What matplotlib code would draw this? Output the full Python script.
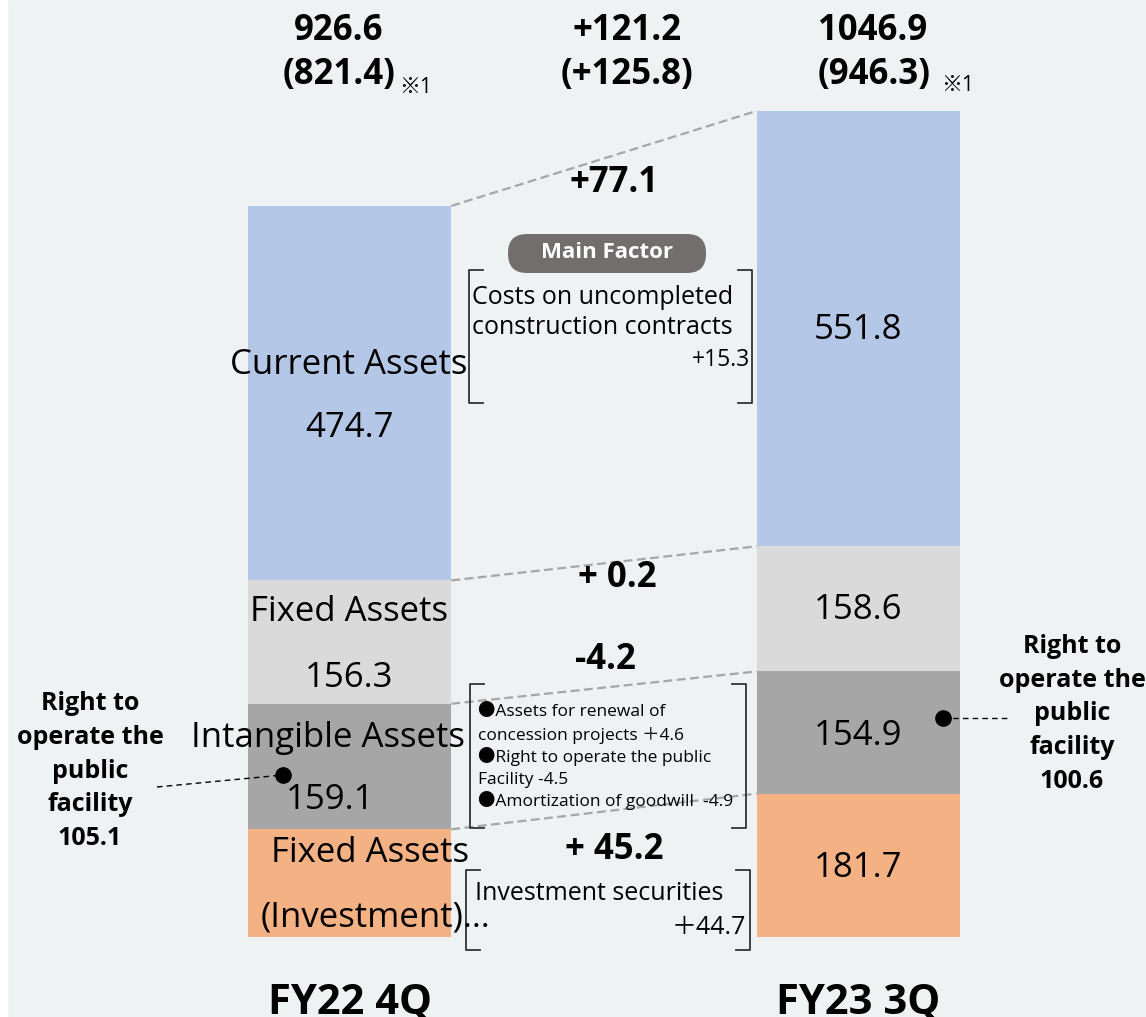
import numpy as np
import matplotlib.pyplot as plt
from matplotlib.transforms import Affine2D
from matplotlib.patches import FancyBboxPatch, Rectangle

plt.rcParams['font.family'] = ['Open Sans', 'Noto Sans CJK JP', 'DejaVu Sans']

periods = ['FY22 4Q', 'FY23 3Q']
# listed top to bottom
segments = ['Current Assets', 'Fixed Assets', 'Intangible Assets', 'Fixed Assets\n(Investment)']
values = np.array([[474.7, 551.8],
                   [156.3, 158.6],
                   [159.1, 154.9],
                   [136.5, 181.7]])
totals = [926.6, 1046.9]
totals_ex = ['(821.4)', '(946.3)']
diff_total = '+121.2'
diff_total_ex = '(+125.8)'
diffs = ['+77.1', '+ 0.2', '-4.2', '+ 45.2']
right_to_operate = [105.1, 100.6]
colors = ['#b4c7e7', '#dadada', '#a6a6a6', '#f4b183']

W, H = 1146, 1017
fig = plt.figure(figsize=(W / 100, H / 100), dpi=100)
fig.patch.set_facecolor('#eef2f3')
# pixel coords measured from the top-left corner
pxT = Affine2D().scale(1 / 100, -1 / 100).translate(0, H / 100) + fig.dpi_scale_trans
fig.patches.append(Rectangle((0, 0), 7, H, transform=pxT, color='white', zorder=-5))

ax = fig.add_axes([0, 0, 1, 1])
ax.set_facecolor('none')
scale = 0.789  # px per unit
ax.set_ylim(-(H - 937) / scale, 937 / scale)
ax.set_xlim(-349.5 / 509, (W - 349.5) / 509)
ax.axis('off')

x = np.arange(len(periods))
bw = 0.4
bottom = np.zeros(2)
for i in reversed(range(len(segments))):
    ax.bar(x, values[i], bw, bottom=bottom, color=colors[i], zorder=2)
    bottom = bottom + values[i]

# dashed connectors between segment tops
tops = np.cumsum(values[::-1], axis=0)[::-1]
for i in range(len(segments)):
    ax.plot([x[0] + bw / 2, x[1] - bw / 2], [tops[i][0], tops[i][1]],
            ls=(0, (4, 2)), color='#a6a6a6', lw=1.6, zorder=3)


def txt(xp, yp, s, **kw):
    kw.setdefault('ha', 'center')
    kw.setdefault('va', 'center')
    fig.text(xp, yp, s, transform=pxT, **kw)


def line(xs, ys, **kw):
    fig.lines.append(plt.Line2D(xs, ys, transform=pxT, **kw))


# top totals
txt(339, 31, f'{totals[0]}', fontsize=25, fontweight='bold')
txt(339, 75, totals_ex[0], fontsize=25, fontweight='bold')
txt(416, 87, '※1', fontsize=15)
txt(627, 31, diff_total, fontsize=25, fontweight='bold')
txt(627, 75, diff_total_ex, fontsize=25, fontweight='bold')
txt(873, 31, f'{totals[1]}', fontsize=25, fontweight='bold')
txt(874, 75, totals_ex[1], fontsize=25, fontweight='bold')
txt(958, 85, '※1', fontsize=15)

# left bar labels
txt(349, 365, segments[0], fontsize=25)
txt(349, 428, f'{values[0][0]}', fontsize=25)
txt(349, 612, segments[1], fontsize=25)
txt(349, 678, f'{values[1][0]}', fontsize=25)
txt(328, 738, segments[2], fontsize=25)
txt(330, 800, f'{values[2][0]}', fontsize=25)
txt(370, 853, 'Fixed Assets', fontsize=25)
txt(375, 918, '(Investment)…', fontsize=25)

# right bar labels
for yp, v in zip([330, 610, 736, 868], values[:, 1]):
    txt(858, yp, f'{v}', fontsize=25)

# differences
for (xp, yp), d in zip([(614, 183), (617, 578), (605, 660), (614, 850)], diffs):
    txt(xp, yp, d, fontsize=25, fontweight='bold')

# main factor pill
fig.patches.append(FancyBboxPatch((508, 234), 198, 39, boxstyle='round,pad=0,rounding_size=19',
                                  transform=pxT, fc='#726e6d', ec='none'))
txt(607, 252, 'Main Factor', fontsize=16, fontweight='bold', color='white')


def bracket(x0, x1, y0, y1, arm=14):
    for xs, d in [(x0, 1), (x1, -1)]:
        line([xs + d * arm, xs, xs, xs + d * arm], [y0, y0, y1, y1], color='#333333', lw=1.3)


bracket(469, 752, 270, 403)
txt(472, 297, 'Costs on uncompleted', fontsize=18, ha='left')
txt(472, 327, 'construction contracts', fontsize=18, ha='left')
txt(750, 360, '+15.3', fontsize=16.5, ha='right')

bracket(470, 746, 684, 828)
for yp, s in zip([712, 735, 757, 780, 801],
                 ['●Assets for renewal of', 'concession projects ＋4.6',
                  '●Right to operate the public', 'Facility -4.5',
                  '●Amortization of goodwill  -4.9']):
    txt(478, yp, s, fontsize=12.5, ha='left')

bracket(466, 750, 870, 950)
txt(475, 893, 'Investment securities', fontsize=18, ha='left')
txt(746, 928, '＋44.7', fontsize=18, ha='right')

# right-to-operate callouts
line([157, 283], [787, 775], color='black', ls=(0, (4, 3)), lw=1)
line([943, 1008], [718, 718], color='black', ls=(0, (4, 3)), lw=1)
line([283], [775], marker='o', color='black', ms=11)
line([943], [718], marker='o', color='black', ms=11)
txt(90, 771, f'Right to\noperate the\npublic\nfacility\n{right_to_operate[0]}',
    fontsize=18, fontweight='bold', linespacing=1.45)
txt(1072, 714, f'Right to\noperate the\npublic\nfacility\n{right_to_operate[1]}',
    fontsize=18, fontweight='bold', linespacing=1.45)

# period labels
for xp, p in zip([350, 858], periods):
    txt(xp, 1014, p, va='baseline', fontsize=30, fontweight='bold')

fig.savefig('out.png', dpi=100)
